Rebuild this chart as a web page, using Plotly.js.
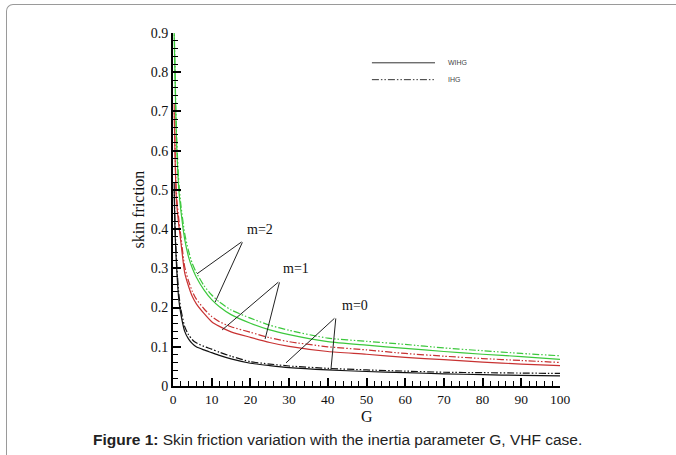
<!DOCTYPE html>
<html>
<head>
<meta charset="utf-8">
<script src="https://cdn.plot.ly/plotly-3.0.1.min.js"></script>
<style>
html,body{margin:0;padding:0;background:#fff;}
#wrap{position:relative;width:676px;height:455px;overflow:hidden;}
#frame{position:absolute;left:6px;top:4px;width:700px;height:500px;border-left:1.5px solid #9a9a9a;border-top:1.5px solid #9a9a9a;border-top-left-radius:7px;pointer-events:none;}
#chart{position:absolute;left:0;top:0;width:676px;height:455px;}
</style>
</head>
<body>
<div id="wrap"><div id="chart"></div><div id="frame"></div></div>
<script>
// Inertia parameter G
const G = [0.3, 0.5, 0.75, 1, 1.5, 2, 3, 4, 5, 6, 8, 10, 12, 15, 20, 25, 30, 40, 50, 60, 70, 80, 90, 100];

// m=2 (green)
const m2_WIHG = [0.90, 0.80, 0.68, 0.60, 0.50, 0.45, 0.375, 0.33, 0.30, 0.278, 0.245, 0.22, 0.202, 0.182, 0.16, 0.143, 0.131, 0.113, 0.104, 0.096, 0.088, 0.081, 0.075, 0.068];
const m2_IHG  = [0.92, 0.82, 0.70, 0.62, 0.52, 0.465, 0.39, 0.345, 0.312, 0.29, 0.256, 0.232, 0.214, 0.194, 0.173, 0.155, 0.142, 0.122, 0.114, 0.106, 0.097, 0.090, 0.083, 0.077];

// m=1 (red)
const m1_WIHG = [0.70, 0.60, 0.50, 0.46, 0.41, 0.37, 0.29, 0.255, 0.228, 0.21, 0.185, 0.164, 0.152, 0.138, 0.124, 0.111, 0.101, 0.088, 0.081, 0.073, 0.067, 0.061, 0.056, 0.052];
const m1_IHG  = [0.72, 0.62, 0.52, 0.475, 0.425, 0.385, 0.305, 0.268, 0.241, 0.222, 0.197, 0.177, 0.164, 0.151, 0.137, 0.123, 0.113, 0.100, 0.092, 0.083, 0.076, 0.070, 0.065, 0.060];

// m=0 (black)
const m0_WIHG = [0.50, 0.40, 0.34, 0.29, 0.22, 0.185, 0.14, 0.12, 0.108, 0.100, 0.092, 0.085, 0.078, 0.069, 0.058, 0.052, 0.047, 0.041, 0.037, 0.034, 0.031, 0.029, 0.027, 0.026];
const m0_IHG  = [0.52, 0.42, 0.355, 0.305, 0.235, 0.198, 0.152, 0.131, 0.118, 0.110, 0.101, 0.094, 0.086, 0.076, 0.062, 0.056, 0.051, 0.045, 0.041, 0.038, 0.035, 0.034, 0.033, 0.032];

const seriesNames = ["WIHG", "IHG"];
const mLabels = ["m=2", "m=1", "m=0"];

const green = "#3cc83c", red = "#c83232", black = "#111111";
const dashDot = "7px,2px,1.5px,2px,1.5px,2px";

function tr(y, color, dash) {
  return {x: G, y: y, mode: "lines", type: "scatter", line: {color: color, width: 1.2, dash: dash, shape: "spline", smoothing: 0.6}, showlegend: false, hoverinfo: "skip"};
}

const data = [
  tr(m2_WIHG, green, "solid"), tr(m2_IHG, green, dashDot),
  tr(m1_WIHG, red, "solid"), tr(m1_IHG, red, dashDot),
  tr(m0_WIHG, black, "solid"), tr(m0_IHG, black, dashDot)
];

const serif = "Liberation Serif, Times New Roman, serif";

function pointer(text, tx, ty, ox, oy, e1, e2) {
  return [
    {x: tx, y: ty, xref: "x", yref: "y", text: text, showarrow: false, font: {family: serif, size: 14, color: "#111"}},
    {x: e1[0], y: e1[1], ax: ox, ay: oy, axref: "x", ayref: "y", xref: "x", yref: "y", text: "", showarrow: true, arrowhead: 0, arrowwidth: 1, arrowcolor: "#222", standoff: 0, startstandoff: 0},
    {x: e2[0], y: e2[1], ax: ox, ay: oy, axref: "x", ayref: "y", xref: "x", yref: "y", text: "", showarrow: true, arrowhead: 0, arrowwidth: 1, arrowcolor: "#222", standoff: 0, startstandoff: 0}
  ];
}

const annotations = [].concat(
  pointer(mLabels[0], 22.5, 0.40, 18.1, 0.37, [6.2, 0.286], [10.9, 0.214]),
  pointer(mLabels[1], 31.8, 0.30, 27.6, 0.268, [12.7, 0.143], [23.8, 0.12]),
  pointer(mLabels[2], 47.0, 0.205, 42.1, 0.176, [29.2, 0.059], [40.8, 0.041]),
  [
    {x: 70.5, y: 0.824, xref: "x", yref: "y", text: seriesNames[0], showarrow: false, xanchor: "left", font: {family: "Liberation Sans, Arial, sans-serif", size: 7, color: "#444"}},
    {x: 70.5, y: 0.781, xref: "x", yref: "y", text: seriesNames[1], showarrow: false, xanchor: "left", font: {family: "Liberation Sans, Arial, sans-serif", size: 7, color: "#444"}},
    {x: 0.5, y: -0.087, xref: "paper", yref: "paper", xanchor: "center", yanchor: "middle", showarrow: false,
     text: "G", font: {family: serif, size: 16, color: "#111"}},
    {x: -0.088, y: 0.5, xref: "paper", yref: "paper", xanchor: "center", yanchor: "middle", showarrow: false, textangle: -90,
     text: "skin friction", font: {family: serif, size: 16, color: "#111"}},
    {x: 0.426, y: -0.152, xref: "paper", yref: "paper", xanchor: "center", yanchor: "middle", showarrow: false,
     text: "<b>Figure 1:</b> Skin friction variation with the inertia parameter G, VHF case.",
     font: {family: "Liberation Sans, Arial, sans-serif", size: 15.5, color: "#222"}}
  ]
);

const shapes = [
  {type: "line", xref: "x", yref: "y", x0: 51.4, x1: 67.7, y0: 0.824, y1: 0.824, line: {color: "#333", width: 1}},
  {type: "line", xref: "x", yref: "y", x0: 51.4, x1: 67.7, y0: 0.781, y1: 0.781, line: {color: "#333", width: 1, dash: dashDot}}
];

const layout = {
  width: 676, height: 455,
  margin: {l: 173, r: 116, t: 33, b: 69},
  paper_bgcolor: "rgba(0,0,0,0)", plot_bgcolor: "rgba(0,0,0,0)",
  showlegend: false,
  xaxis: {
    range: [0, 100], dtick: 10, tick0: 0, showgrid: false, zeroline: false,
    showline: true, linecolor: "#000", linewidth: 2, mirror: false,
    ticks: "inside", ticklen: 8, tickwidth: 2, tickcolor: "#000",
    minor: {dtick: 2, ticks: "inside", ticklen: 5, tickwidth: 1, tickcolor: "#000", showgrid: false},
    tickfont: {family: serif, size: 13.5, color: "#111"},
    automargin: false
  },
  yaxis: {
    range: [0, 0.9], dtick: 0.1, tick0: 0, showgrid: false, zeroline: false,
    showline: true, linecolor: "#000", linewidth: 2,
    ticks: "inside", ticklen: 8, tickwidth: 2, tickcolor: "#000",
    minor: {dtick: 0.02, ticks: "inside", ticklen: 5, tickwidth: 1, tickcolor: "#000", showgrid: false},
    tickfont: {family: serif, size: 14, color: "#111"},
    automargin: false
  },
  annotations: annotations,
  shapes: shapes
};

Plotly.newPlot("chart", data, layout, {displayModeBar: false, staticPlot: true});
</script>
</body>
</html>
